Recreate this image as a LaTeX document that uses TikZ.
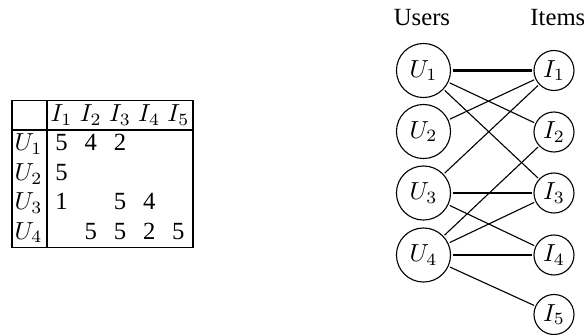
\documentclass[tikz,border=0pt]{standalone}
\usepackage[no-math]{fontspec}
\setmainfont{Liberation Serif}
\begin{document}
\begin{tikzpicture}[x=0.405pt,y=-0.405pt,
 unode/.style={circle,draw,line width=0.45pt,minimum size=21.9pt,inner sep=0pt,outer sep=0.8pt},
 inode/.style={circle,draw,line width=0.45pt,minimum size=16.2pt,inner sep=0pt,outer sep=0.8pt},
 link/.style={line width=0.45pt},
 strong/.style={line width=0.9pt},
 stronger/.style={line width=1.2pt},
 tabrule/.style={line width=0.6pt},
 cell/.style={anchor=base,inner sep=0pt},
 lbl/.style={anchor=base,inner sep=0pt}]
\useasboundingbox (0,0) rectangle (584,335);
% table
\draw[tabrule] (12,100.5) rectangle (193,247.5);
\draw[tabrule] (47,100.5) -- (47,247.5);
\draw[tabrule] (12,130) -- (193,130);
\node[cell] (h1) at (61.6,121.4) {$I_1$};
\node[cell] (h2) at (90.8,121.4) {$I_2$};
\node[cell] (h3) at (120,121.4) {$I_3$};
\node[cell] (h4) at (149.2,121.4) {$I_4$};
\node[cell] (h5) at (178.4,121.4) {$I_5$};
\node[cell] (r1) at (28.5,150.9) {$U_1$};
\node[cell] (r2) at (28.5,180.3) {$U_2$};
\node[cell] (r3) at (28.5,209.7) {$U_3$};
\node[cell] (r4) at (28.5,239.1) {$U_4$};
\node[cell] (c11) at (61.6,150.9) {5};
\node[cell] (c12) at (90.8,150.9) {4};
\node[cell] (c13) at (120,150.9) {2};
\node[cell] (c21) at (61.6,180.3) {5};
\node[cell] (c31) at (61.6,209.7) {1};
\node[cell] (c33) at (120,209.7) {5};
\node[cell] (c34) at (149.2,209.7) {4};
\node[cell] (c42) at (90.8,239.1) {5};
\node[cell] (c43) at (120,239.1) {5};
\node[cell] (c44) at (149.2,239.1) {2};
\node[cell] (c45) at (178.4,239.1) {5};
% graph
\node[lbl] (users) at (422,25) {Users};
\node[lbl,anchor=base west] (items) at (530,25) {Items};
\node[unode] (u1) at (423.5,70.5) {$U_1$};
\node[unode] (u2) at (423.5,131.5) {$U_2$};
\node[unode] (u3) at (423.5,193) {$U_3$};
\node[unode] (u4) at (423.5,255) {$U_4$};
\node[inode] (i1) at (554,70.5) {$I_1$};
\node[inode] (i2) at (554,132) {$I_2$};
\node[inode] (i3) at (554,193) {$I_3$};
\node[inode] (i4) at (554,255) {$I_4$};
\node[inode] (i5) at (554,314.5) {$I_5$};
\draw[strong] (u1) -- (i1);
\draw[link] (u1) -- (i2);
\draw[link] (u1) -- (i3);
\draw[link] (u2) -- (i1);
\draw[link] (u3) -- (i1);
\draw[strong] (u3) -- (i3);
\draw[link] (u3) -- (i4);
\draw[link] (u4) -- (i2);
\draw[link] (u4) -- (i3);
\draw[stronger] (u4) -- (i4);
\draw[link] (u4) -- (i5);
\end{tikzpicture}
\end{document}
